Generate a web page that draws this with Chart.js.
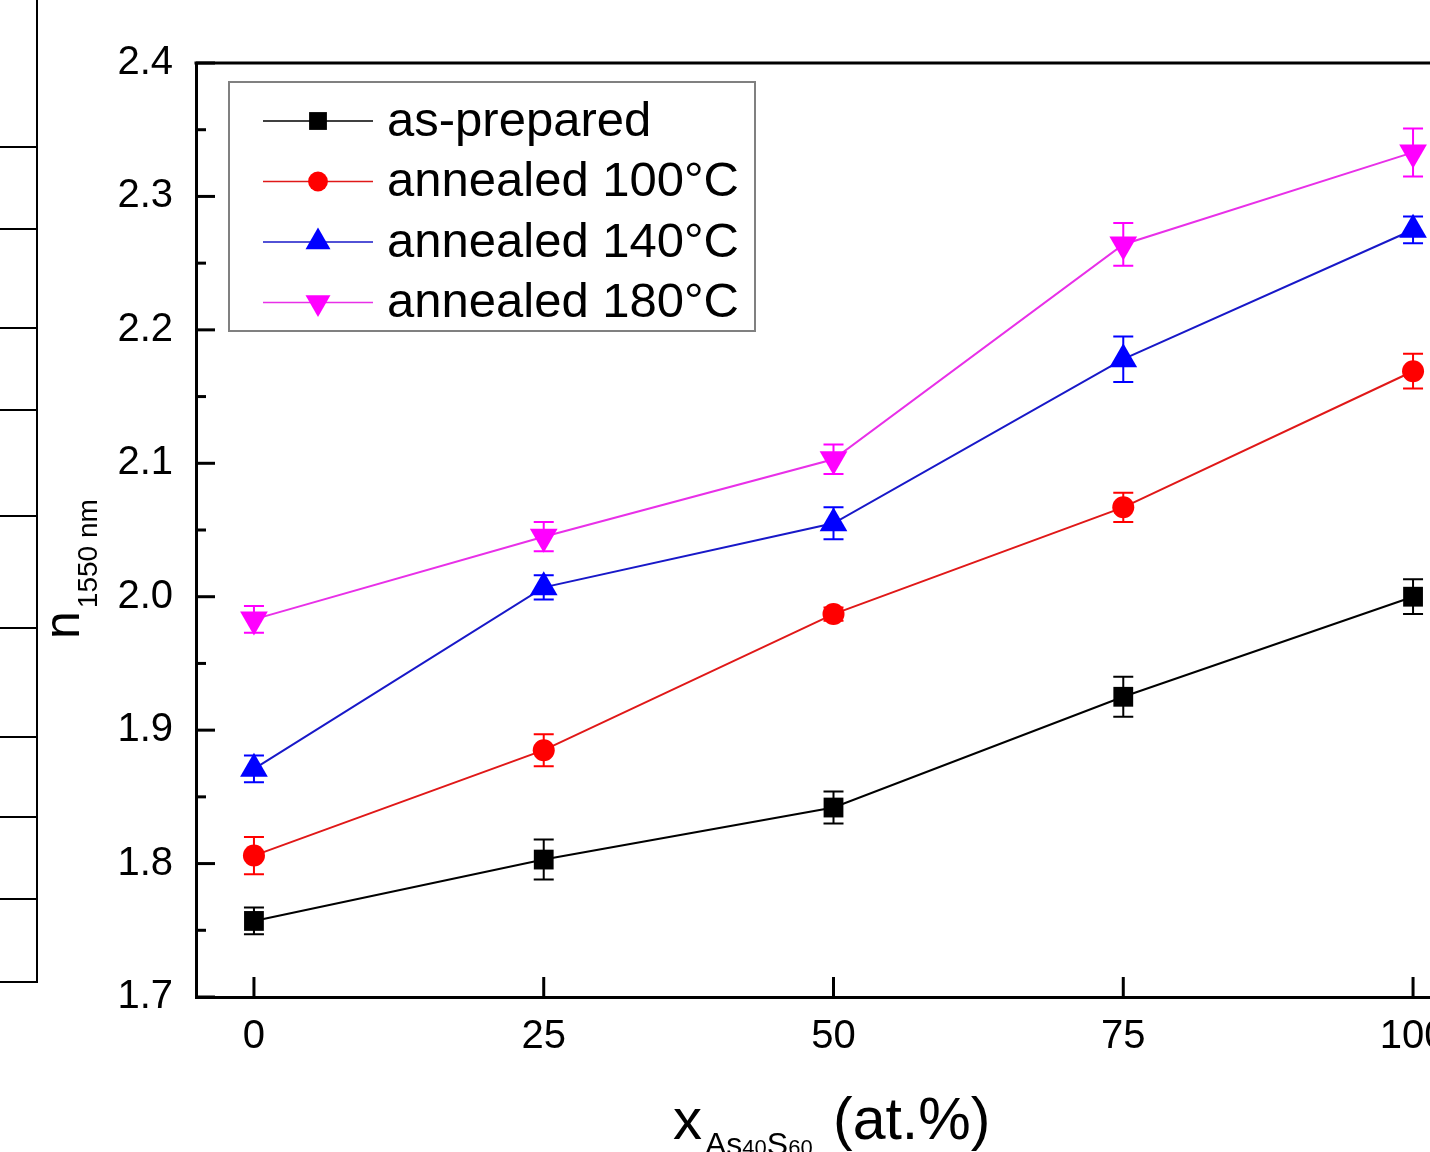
<!DOCTYPE html>
<html><head><meta charset="utf-8">
<script src="https://cdn.jsdelivr.net/npm/chart.js@4.4.1/dist/chart.umd.min.js"></script>
<style>
html,body{margin:0;padding:0;background:#fff;overflow:hidden;}
#wrap{position:relative;width:1430px;height:1152px;overflow:hidden;background:#fff;}
#c{position:absolute;left:0;top:0;}
</style></head><body>
<div id="wrap"><canvas id="c" width="1487" height="1152"></canvas></div>
<script>
// ---- data ----
const xValues = [0, 25, 50, 75, 100];
const xTickLabels = ['0', '25', '50', '75', '100'];
const yTickValues = [1.7, 1.8, 1.9, 2.0, 2.1, 2.2, 2.3, 2.4];
const yTickLabels = ['1.7', '1.8', '1.9', '2.0', '2.1', '2.2', '2.3', '2.4'];
const seriesNames = ['as-prepared', 'annealed 100°C', 'annealed 140°C', 'annealed 180°C'];
const asPrepared     = [1.757, 1.803, 1.842, 1.925, 2.000];
const asPreparedErr  = [0.010, 0.015, 0.012, 0.015, 0.013];
const annealed100    = [1.806, 1.885, 1.987, 2.067, 2.169];
const annealed100Err = [0.014, 0.012, 0.005, 0.011, 0.013];
const annealed140    = [1.871, 2.007, 2.055, 2.178, 2.275];
const annealed140Err = [0.010, 0.009, 0.012, 0.017, 0.010];
const annealed180    = [1.983, 2.045, 2.103, 2.264, 2.333];
const annealed180Err = [0.010, 0.011, 0.011, 0.016, 0.018];

const seriesValues = [asPrepared, annealed100, annealed140, annealed180];
const seriesErrors = [asPreparedErr, annealed100Err, annealed140Err, annealed180Err];
const seriesColors = ['#000000', '#ff0000', '#0000ff', '#ff00ff'];
const lineColors   = ['#000000', '#e01818', '#1818c8', '#e830e8'];
const markerStyles = [
  {style:'rect', radius:14, rotation:0},
  {style:'circle', radius:11, rotation:0},
  {style:'triangle', radius:16, rotation:0},
  {style:'triangle', radius:16, rotation:180}
];

const FONT = '"Liberation Sans", Arial, Helvetica, sans-serif';

function drawMarker(ctx, m, x, y, r, color) {
  ctx.save();
  ctx.fillStyle = color;
  ctx.beginPath();
  if (m.style === 'rect') {
    const s = Math.SQRT1_2 * r;
    ctx.rect(x - s, y - s, 2 * s, 2 * s);
  } else if (m.style === 'circle') {
    ctx.arc(x, y, r, 0, Math.PI * 2);
  } else {
    let rad = m.rotation * Math.PI / 180;
    for (let k = 0; k < 3; k++) {
      const px = x + Math.sin(rad) * r, py = y - Math.cos(rad) * r;
      if (k === 0) ctx.moveTo(px, py); else ctx.lineTo(px, py);
      rad += 2 * Math.PI / 3;
    }
    ctx.closePath();
  }
  ctx.fill();
  ctx.restore();
}

const datasets = seriesNames.map((name, i) => ({
  label: name,
  data: xValues.map((x, j) => ({x: x, y: seriesValues[i][j]})),
  borderColor: lineColors[i],
  backgroundColor: seriesColors[i],
  pointBackgroundColor: seriesColors[i],
  pointBorderColor: seriesColors[i],
  pointBorderWidth: 0,
  borderWidth: 2,
  pointStyle: markerStyles[i].style,
  pointRotation: markerStyles[i].rotation,
  pointRadius: markerStyles[i].radius,
  tension: 0,
  fill: false
}));

const decoPlugin = {
  id: 'deco',
  beforeDatasetsDraw(chart) {
    const ctx = chart.ctx, xs = chart.scales.x, ys = chart.scales.y;
    ctx.save();
    ctx.lineWidth = 2;
    seriesValues.forEach((vals, i) => {
      ctx.strokeStyle = seriesColors[i];
      vals.forEach((v, j) => {
        const px = xs.getPixelForValue(xValues[j]);
        const t = ys.getPixelForValue(v + seriesErrors[i][j]);
        const b = ys.getPixelForValue(v - seriesErrors[i][j]);
        ctx.beginPath();
        ctx.moveTo(px, t); ctx.lineTo(px, b);
        ctx.moveTo(px - 10, t); ctx.lineTo(px + 10, t);
        ctx.moveTo(px - 10, b); ctx.lineTo(px + 10, b);
        ctx.stroke();
      });
    });
    ctx.restore();
  },
  afterDraw(chart) {
    const ctx = chart.ctx, xs = chart.scales.x, ys = chart.scales.y, a = chart.chartArea;
    ctx.save();
    // top frame line
    ctx.strokeStyle = '#000'; ctx.lineWidth = 3;
    ctx.beginPath(); ctx.moveTo(a.left - 1.5, a.top); ctx.lineTo(a.right, a.top); ctx.stroke();
    // inward ticks
    ctx.lineWidth = 3;
    yTickValues.forEach((v, k) => {
      const py = ys.getPixelForValue(v);
      ctx.beginPath(); ctx.moveTo(a.left, py); ctx.lineTo(a.left + 19, py); ctx.stroke();
      if (k < yTickValues.length - 1) {
        const pm = ys.getPixelForValue((v + yTickValues[k + 1]) / 2);
        ctx.beginPath(); ctx.moveTo(a.left, pm); ctx.lineTo(a.left + 10, pm); ctx.stroke();
      }
    });
    xValues.forEach(v => {
      const px = xs.getPixelForValue(v);
      ctx.beginPath(); ctx.moveTo(px, a.bottom); ctx.lineTo(px, a.bottom - 20); ctx.stroke();
    });
    // legend
    ctx.lineWidth = 2; ctx.strokeStyle = '#808080';
    ctx.strokeRect(229, 82, 526, 249);
    seriesNames.forEach((name, i) => {
      const yy = 121 + i * 60.5;
      ctx.strokeStyle = lineColors[i]; ctx.lineWidth = 1.5;
      ctx.beginPath(); ctx.moveTo(263, yy); ctx.lineTo(373, yy); ctx.stroke();
      drawMarker(ctx, markerStyles[i], 318, yy, markerStyles[i].radius * 0.9, seriesColors[i]);
      ctx.fillStyle = '#000'; ctx.font = '49px ' + FONT;
      ctx.textBaseline = 'middle'; ctx.textAlign = 'left';
      ctx.fillText(name, 387, yy + 1);
    });
    // y title
    ctx.save();
    ctx.fillStyle = '#000'; ctx.textBaseline = 'alphabetic'; ctx.textAlign = 'left';
    ctx.translate(79, 639); ctx.rotate(-Math.PI / 2);
    ctx.font = '50px ' + FONT;
    ctx.fillText('n', 0, 0);
    const nw = ctx.measureText('n').width;
    ctx.font = '28px ' + FONT;
    ctx.fillText('1550 nm', nw + 3, 18);
    ctx.restore();
    // x title
    ctx.fillStyle = '#000'; ctx.textBaseline = 'alphabetic'; ctx.textAlign = 'left';
    let cx = 673;
    const parts = [
      {t:'x', s:58, b:1139}, {t:'As', s:32, b:1155}, {t:'40', s:22, b:1155},
      {t:'S', s:32, b:1155}, {t:'60', s:22, b:1155}, {t:' (at.%)', s:59, b:1139}
    ];
    parts.forEach((p, k) => {
      ctx.font = p.s + 'px ' + FONT;
      if (k === 1) cx += 3;
      if (k === 5) cx += 4;
      ctx.fillText(p.t, cx, p.b);
      cx += ctx.measureText(p.t).width;
    });
    // fragment of neighbouring panel at far left
    ctx.strokeStyle = '#000'; ctx.lineWidth = 2;
    ctx.beginPath(); ctx.moveTo(37, 0); ctx.lineTo(37, 983); ctx.stroke();
    [147, 229, 328, 410, 516, 628, 737, 817, 899, 982].forEach(yy => {
      ctx.beginPath(); ctx.moveTo(0, yy); ctx.lineTo(38, yy); ctx.stroke();
    });
    ctx.restore();
  }
};

new Chart(document.getElementById('c'), {
  type: 'line',
  data: { datasets: datasets },
  plugins: [decoPlugin],
  options: {
    responsive: false,
    animation: false,
    events: [],
    layout: { padding: { top: 63, right: 3, left: 0, bottom: 0 } },
    plugins: { legend: { display: false }, tooltip: { enabled: false }, title: { display: false } },
    scales: {
      x: {
        type: 'linear', min: -5, max: 105,
        afterFit(s) { s.height = 155; },
        afterBuildTicks(s) { s.ticks = xValues.map(v => ({ value: v })); },
        grid: { display: false, drawTicks: false },
        border: { display: true, color: '#000', width: 3 },
        ticks: {
          autoSkip: false, maxRotation: 0, padding: 16, color: '#000',
          font: { family: FONT, size: 40 },
          callback: (v) => xTickLabels[xValues.indexOf(v)]
        }
      },
      y: {
        type: 'linear', min: 1.7, max: 2.4,
        afterFit(s) { s.width = 196; },
        afterBuildTicks(s) { s.ticks = yTickValues.map(v => ({ value: v })); },
        grid: { display: false, drawTicks: false },
        border: { display: true, color: '#000', width: 3 },
        ticks: {
          padding: 23, color: '#000',
          font: { family: FONT, size: 40 },
          callback: (v) => { const k = yTickValues.findIndex(t => Math.abs(t - v) < 1e-9); return k >= 0 ? yTickLabels[k] : ''; }
        }
      }
    }
  }
});
</script>
</body></html>
